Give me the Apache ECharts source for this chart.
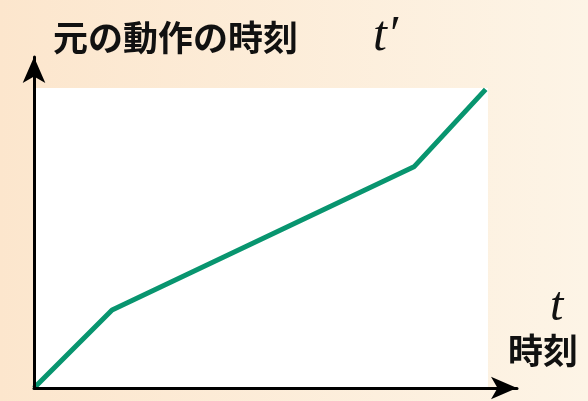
<!DOCTYPE html>
<html>
<head>
<meta charset="utf-8">
<script src="https://cdn.jsdelivr.net/npm/echarts@6/dist/echarts.min.js"></script>
<style>
  html, body { margin: 0; padding: 0; }
  #chart { width: 588px; height: 401px; }
</style>
</head>
<body>
<div id="chart"></div>
<script>
// Piecewise time mapping: actual time t -> original motion time t'
const tValues = [0, 1.72, 8.37, 9.95];
const tPrimeValues = [0, 2.6, 7.37, 9.95];

// Drawing area (white panel) spans 0..10 on both axes; the axes run a bit further for the arrows
const panelMax = 10;
const xAxisMax = 10.64;
const yAxisMax = 11.03;

const yTitle = '元の動作の時刻';
const yVar = 't′';
const xVar = 't';
const xTitle = '時刻';

const lineData = tValues.map((t, i) => [t, tPrimeValues[i]]);

const chart = echarts.init(document.getElementById('chart'), null, { renderer: 'canvas' });

const axisCommon = {
  type: 'value',
  min: 0,
  z: 5,
  axisLine: {
    show: true,
    onZero: false,
    symbol: ['none', 'arrow'],
    symbolSize: [17, 26],
    lineStyle: { color: '#000', width: 3 }
  },
  axisTick: { show: false },
  axisLabel: { show: false },
  splitLine: { show: false }
};

chart.setOption({
  animation: false,
  backgroundColor: {
    type: 'linear', x: 0, y: 0, x2: 1, y2: 0,
    colorStops: [
      { offset: 0, color: '#fce6cd' },
      { offset: 1, color: '#fdf4e6' }
    ]
  },
  grid: { left: 34, right: 71, top: 57, bottom: 13 },
  xAxis: Object.assign({}, axisCommon, { max: xAxisMax }),
  yAxis: Object.assign({}, axisCommon, { max: yAxisMax }),
  graphic: [
    {
      type: 'text', left: 53, top: 20,
      style: { text: yTitle, font: 'bold 35px "Noto Sans CJK JP"', fill: '#111' }
    },
    {
      type: 'text', left: 373, top: 12,
      style: { text: yVar, font: 'italic 50px "Liberation Serif"', fill: '#111' }
    },
    {
      type: 'text', left: 550, top: 283,
      style: { text: xVar, font: 'italic 48px "Liberation Serif"', fill: '#111' }
    },
    {
      type: 'text', left: 508, top: 333,
      style: { text: xTitle, font: 'bold 35px "Noto Sans CJK JP"', fill: '#111' }
    }
  ],
  series: [
    {
      type: 'line',
      data: lineData,
      showSymbol: false,
      lineStyle: { color: '#08956f', width: 5 },
      z: 3,
      markArea: {
        silent: true,
        itemStyle: { color: '#ffffff' },
        data: [[{ coord: [0, 0] }, { coord: [panelMax, panelMax] }]]
      }
    }
  ]
});
</script>
</body>
</html>
